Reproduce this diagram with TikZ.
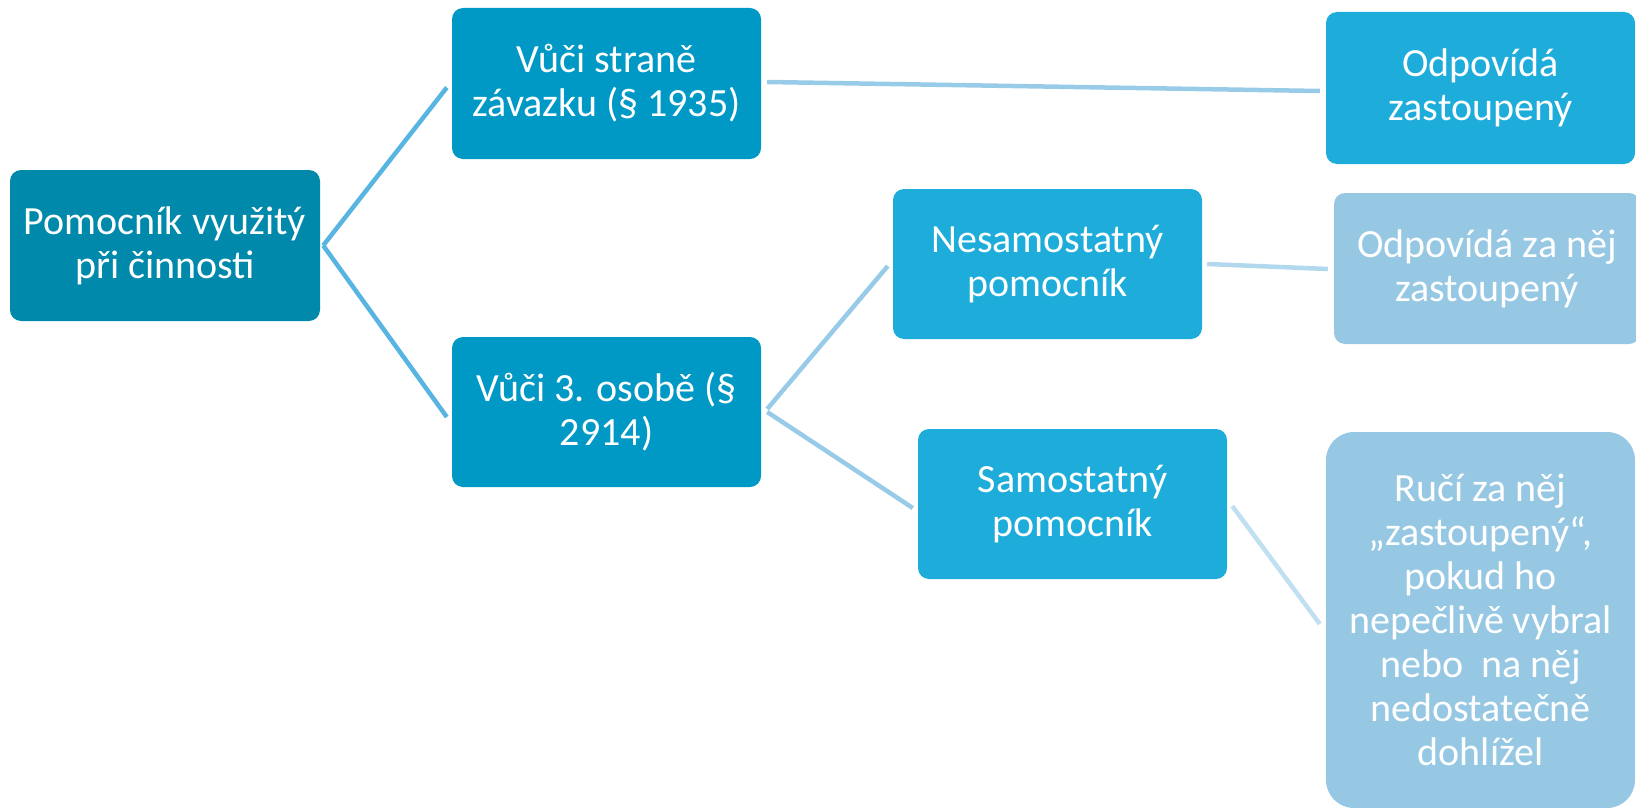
\documentclass[tikz,border=0pt]{standalone}
\usepackage{fontspec}
\setmainfont{Carlito}
\usetikzlibrary{calc}
\definecolor{croot}{RGB}{1,137,172}
\definecolor{cmid}{RGB}{0,153,198}
\definecolor{cthird}{RGB}{30,172,218}
\definecolor{clight}{RGB}{150,200,228}
\definecolor{lineA}{RGB}{88,180,224}
\definecolor{lineB}{RGB}{152,203,232}
\definecolor{lineC}{RGB}{178,216,238}
\definecolor{lineD}{RGB}{192,224,242}
\tikzset{
  box/.style={rounded corners=11pt, inner sep=0pt, align=center, text=white,
    font=\fontsize{40}{44}\selectfont},
  conn/.style={line width=4.5pt}
}
\begin{document}
\begin{tikzpicture}[x=1pt,y=-1pt]
\useasboundingbox (0,0) rectangle (1636,808);
\clip (0,0) rectangle (1636,808);
\node[box, fill=croot, minimum width=310pt, minimum height=151pt] (root) at (165,245.5) {Pomocník využitý\\při činnosti};
\node[box, fill=cmid, minimum width=309pt, minimum height=151pt] (top) at (606.5,83.5) {Vůči straně\\závazku (§ 1935)};
\node[box, fill=cmid, minimum width=309pt, minimum height=150pt] (bot) at (606.5,412) {Vůči 3. osobě (§\\2914)};
\node[box, fill=cthird, minimum width=309pt, minimum height=150pt] (nesam) at (1047.5,264) {Nesamostatný\\pomocník};
\node[box, fill=cthird, minimum width=309pt, minimum height=150pt] (sam) at (1072.5,504) {Samostatný\\pomocník};
\node[box, fill=cthird, minimum width=309pt, minimum height=152pt] (odp) at (1480.5,88) {Odpovídá\\zastoupený};
\node[box, fill=clight, minimum width=306pt, minimum height=151pt] (odp2) at (1487,268.5) {Odpovídá za něj\\zastoupený};
\node[box, fill=clight, rounded corners=28pt, minimum width=309pt, minimum height=376pt] (ruci) at (1480.5,620) {Ručí za něj\\„zastoupený“,\\pokud ho\\nepečlivě vybral\\nebo\ \ na něj\\nedostatečně\\dohlížel};
\draw[conn, lineA] ($(root.east)+(3,0)$) -- ($(top.west)+(-5,4)$);
\draw[conn, lineA] ($(root.east)+(3,0)$) -- ($(bot.west)+(-5,5)$);
\draw[conn, lineB] ($(top.east)+(6,-1.5)$) -- ($(odp.west)+(-6,3)$);
\draw[conn, lineB] ($(bot.east)+(6,-3)$) -- ($(nesam.west)+(-5,2)$);
\draw[conn, lineB] ($(bot.east)+(6,0)$) -- ($(sam.west)+(-5,4)$);
\draw[conn, lineC] ($(nesam.east)+(5,0)$) -- ($(odp2.west)+(-6,0.5)$);
\draw[conn, lineD] ($(sam.east)+(5,2)$) -- ($(ruci.west)+(-6,4)$);
\end{tikzpicture}
\end{document}
